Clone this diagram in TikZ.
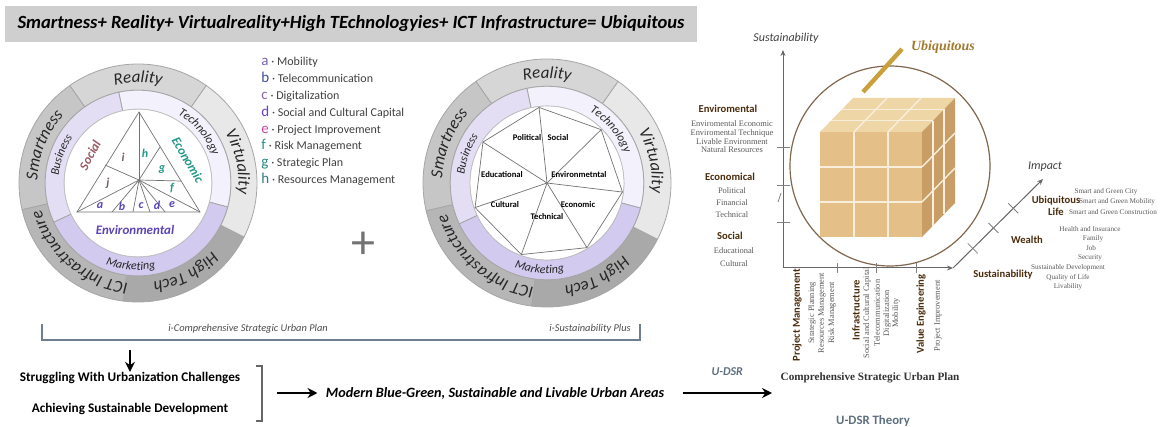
\documentclass[tikz,border=0pt]{standalone}
\usepackage{fontspec}
\setmainfont{Carlito}
\newfontfamily\timesfont{Liberation Serif}
\usetikzlibrary{positioning}
\usetikzlibrary{calc}
\usetikzlibrary{arrows.meta}
\usetikzlibrary{decorations.text}

\definecolor{titlegray}{HTML}{CFCFCF}
\definecolor{realitygray}{HTML}{D6D6D6}
\definecolor{virtualgray}{HTML}{E8E8E8}
\definecolor{hightechgray}{HTML}{A9A9A9}
\definecolor{ictgray}{HTML}{B6B6B6}
\definecolor{smartgray}{HTML}{C6C6C6}
\definecolor{techlav}{HTML}{F3F1FB}
\definecolor{businesslav}{HTML}{E3DEF4}
\definecolor{marketlav}{HTML}{D3CAF0}
\definecolor{socialred}{HTML}{9C5A66}
\definecolor{econteal}{HTML}{23998A}
\definecolor{envpurple}{HTML}{5B45B8}
\definecolor{slicegray}{HTML}{6E5E62}
\definecolor{headbrown}{HTML}{4A2C0C}
\definecolor{cubefront}{HTML}{E4C088}
\definecolor{cubetop}{HTML}{EFD6A6}
\definecolor{cubeside}{HTML}{C89E66}
\definecolor{cubeline}{HTML}{F8EEDC}
\definecolor{goldstick}{HTML}{C9A03C}
\definecolor{goldtext}{HTML}{A37A2E}
\definecolor{bracketblue}{HTML}{6F7E8E}
\definecolor{theoryblue}{HTML}{5D6F80}
\definecolor{lega}{HTML}{7A62B4}
\definecolor{legb}{HTML}{3E4DA0}
\definecolor{legc}{HTML}{8A5FB8}
\definecolor{legd}{HTML}{6A3FC2}
\definecolor{lege}{HTML}{C447A8}
\definecolor{legf}{HTML}{2B8F8A}
\definecolor{legg}{HTML}{23877F}
\definecolor{legh}{HTML}{2E7D86}

% one part of a ring: colour, from, to, outer radius, inner radius
\newcommand{\ringpart}[5]{%
  \filldraw[fill=#1, draw=black!35, line width=0.4pt] (#2:#4) arc[start angle=#2, end angle=#3, radius=#4]
    -- (#3:#5) arc[start angle=#3, end angle=#2, radius=#5] -- cycle;}
\newcommand{\ringfont}{\fontsize{8.5}{9}\selectfont\itshape}
\newcommand{\bandfont}{\fontsize{6}{7}\selectfont\itshape}

\begin{document}
\begin{tikzpicture}[x=0.5pt,y=0.5pt]
\useasboundingbox (0,0) rectangle (1162,-427);

% used styles
\tikzstyle{titletext} = [fill=titlegray, minimum width=346pt, minimum height=18pt, inner sep=0pt, font=\fontsize{9.3}{10}\selectfont\bfseries\itshape]
\tikzstyle{cornertext} = [font=\fontsize{6.5}{7}\selectfont\bfseries\itshape, inner sep=0pt]
\tikzstyle{slicetext} = [font=\fontsize{6}{7}\selectfont\bfseries\itshape, inner sep=0pt]
\tikzstyle{sectortext} = [font=\fontsize{4.3}{5}\selectfont\bfseries, inner sep=0pt]
\tikzstyle{triline} = [draw=black!55, line width=0.35pt]
\tikzstyle{legletter} = [font=\fontsize{7.5}{8}\selectfont, inner sep=0pt, anchor=base west]
\tikzstyle{legtext} = [font=\fontsize{6}{7}\selectfont, text=black!75, inner sep=0pt, anchor=base west]
\tikzstyle{smallserif} = [font=\timesfont\fontsize{4.2}{5}\selectfont, text=black!65, inner sep=0pt]
\tikzstyle{tinyserif} = [font=\timesfont\fontsize{3.6}{4}\selectfont, text=black!65, inner sep=0pt]
\tikzstyle{headword} = [font=\fontsize{5.3}{6}\selectfont\bfseries, text=headbrown, inner sep=0pt]
\tikzstyle{axistext} = [font=\fontsize{6}{7}\selectfont\itshape, text=black!75, inner sep=0pt]
\tikzstyle{axisline} = [draw=black!60, line width=0.5pt, -{Stealth[length=3pt,width=2.5pt]}]
\tikzstyle{tick} = [draw=black!50, line width=0.4pt]
\tikzstyle{cubegrid} = [draw=cubeline, line width=0.7pt]
\tikzstyle{boldarrow} = [draw=black, line width=1.1pt, -{Stealth[length=5pt,width=5pt]}]
\tikzstyle{bottomtext} = [font=\fontsize{6.6}{7}\selectfont\bfseries, inner sep=0pt]
\tikzstyle{ringword} = [decorate, decoration={text along path, text align=center, text color=black!85}]

\node[titletext] (title) at (351,-24) {Smartness+ Reality+ Virtualreality+High TEchnologyies+ ICT Infrastructure= Ubiquitous};

% the two wheels
\foreach \cx/\rr in {138/119, 547/124} {
\begin{scope}[shift={(\cx,-183)}]
\pgfmathsetmacro{\rin}{0.78*\rr}
\pgfmathsetmacro{\rdisk}{0.62*\rr}
\pgfmathsetmacro{\rlab}{0.89*\rr-5.4}
\pgfmathsetmacro{\rband}{0.7*\rr-3.8}
\pgfmathsetmacro{\rmark}{0.7*\rr+3.8}
\ringpart{realitygray}{55}{125}{\rr}{\rin}
\ringpart{smartgray}{125}{193}{\rr}{\rin}
\ringpart{ictgray}{193}{263}{\rr}{\rin}
\ringpart{hightechgray}{263}{333}{\rr}{\rin}
\ringpart{virtualgray}{333}{415}{\rr}{\rin}
\ringpart{techlav}{-15}{102}{\rin}{\rdisk}
\ringpart{businesslav}{102}{205}{\rin}{\rdisk}
\ringpart{marketlav}{205}{345}{\rin}{\rdisk}
\filldraw[fill=white, draw=black!25, line width=0.3pt] (0,0) circle (\rdisk);

\path[ringword, decoration={text={|\ringfont|Reality}}] (130:\rlab) arc[start angle=130, end angle=50, radius=\rlab];
\path[ringword, decoration={text={|\ringfont|Smartness}}] (200:\rlab) arc[start angle=200, end angle=116, radius=\rlab];
\path[ringword, decoration={text={|\ringfont|ICT Infrastructure}}] (275:\rlab) arc[start angle=275, end angle=185, radius=\rlab];
\path[ringword, decoration={text={|\ringfont|High Tech}}] (340:\rlab) arc[start angle=340, end angle=256, radius=\rlab];
\path[ringword, decoration={text={|\ringfont|Virtuality}}] (54:\rlab) arc[start angle=54, end angle=-30, radius=\rlab];
\path[ringword, decoration={text={|\bandfont|Technology}}] (85:\rband) arc[start angle=85, end angle=-5, radius=\rband];
\path[ringword, decoration={text={|\bandfont|Business}}] (205:\rband) arc[start angle=205, end angle=115, radius=\rband];
\path[ringword, decoration={text={|\bandfont|Marketing}}] (225:\rmark) arc[start angle=225, end angle=305, radius=\rmark];
\end{scope}
}

% triangle of the first wheel
\coordinate (tT) at (139,-112);
\coordinate (tL) at (77,-212);
\coordinate (tR) at (200,-212);
\coordinate (tC) at (139,-180);
\coordinate (tP1) at (105,-165);
\coordinate (tP2) at (160,-147);
\coordinate (tP3) at (181,-181);
\draw[triline] (tT) -- (tL) -- (tR) -- cycle;
\foreach \p in {tT,tL,tR,tP1,tP2,tP3} \draw[triline] (tC) -- (\p);
\foreach \x [count=\n] in {112,133,150,165} {
  \coordinate (tB\n) at (\x,-212);
  \draw[triline] (tC) -- (tB\n);
}
\foreach \l/\x/\y/\c in {a/100/206/envpurple, b/122/206/envpurple, c/141/206/envpurple, d/157/205/envpurple, e/172/205/envpurple, f/172/188/econteal, g/162/170/econteal, h/145/153/econteal, i/123/157/slicegray, j/108/183/slicegray}
  \node[slicetext, text=\c] (slice\l) at (\x,-\y) {\l};
\node[cornertext, text=socialred, rotate=62] (social) at (90,-155) {Social};
\node[cornertext, text=econteal, rotate=-60] (economic) at (188,-160) {Economic};
\node[cornertext, text=envpurple] (environmental) at (135,-230) {Environmental};

% legend
\foreach \l/\t/\c [count=\n] in {a/Mobility/lega, b/Telecommunication/legb, c/Digitalization/legc, d/Social and Cultural Capital/legd, e/Project Improvement/lege, f/Risk Management/legf, g/Strategic Plan/legg, h/Resources Management/legh}
{
  \node[legletter, text=\c] (leg\l) at (261,-66-16.8*\n+16.8) {\l};
  \node[legtext, right=1pt of leg\l.base east, anchor=base west] (legt\l) {\textperiodcentered\ \t};
}

\node[font=\fontsize{24}{24}\selectfont, text=black!55] (plus) at (363,-245) {+};

% heptagon of the second wheel
\begin{scope}[shift={(547,-183)}]
\foreach \k in {0,...,6} \coordinate (hp\k) at (96+51.43*\k:76);
\coordinate (hc) at (0,0);
\draw[triline] (hp0) -- (hp1) -- (hp2) -- (hp3) -- (hp4) -- (hp5) -- (hp6) -- cycle;
\foreach \k in {0,...,6} \draw[triline] (hc) -- (hp\k);
\end{scope}
\node[sectortext] (political) at (527,-138) {Political};
\node[sectortext] (socialsec) at (558,-138) {Social};
\node[sectortext] (educational) at (502,-175) {Educational};
\node[sectortext] (environsec) at (579,-175) {Environmetntal};
\node[sectortext] (cultural) at (505,-205) {Cultural};
\node[sectortext] (economicsec) at (578,-205) {Economic};
\node[sectortext] (technicalsec) at (547,-217) {Technical};

% bracket under the wheels
\coordinate (brL) at (42,-324);
\coordinate (brR) at (640,-324);
\draw[bracketblue, line width=1.1pt] (brL) -- ++(0,-16) -| (brR);
\node[font=\fontsize{5.2}{6}\selectfont\itshape, text=black!70] (planlabel) at (248,-329) {i-Comprehensive Strategic Urban Plan};
\node[font=\fontsize{5.2}{6}\selectfont\itshape, text=black!70] (pluslabel) at (590,-329) {i-Sustainability Plus};

% bottom line
\coordinate (downtop) at (130,-350);
\node[bottomtext] (struggle) at (130,-378) {Struggling With Urbanization Challenges};
\node[bottomtext] (achieve) at (130,-409) {Achieving Sustainable Development};
\draw[boldarrow] (downtop) -- (struggle.north);
\coordinate (brkT) at (256,-366);
\coordinate (brkB) at (256,-421);
\draw[black!60, line width=1pt] (brkT) -- ++(6,0) -- ++(0,-55) -- (brkB);
\coordinate (brkout) at (277,-393);
\node[font=\fontsize{7.1}{8}\selectfont\bfseries\itshape, inner sep=0pt] (modern) at (495,-393) {Modern Blue-Green, Sustainable and Livable Urban Areas};
\draw[boldarrow] (brkout) -- ([xshift=-4pt]modern.west);
\coordinate (udsrend) at (772,-393);
\draw[boldarrow] ([xshift=9pt]modern.east) -- (udsrend) node[midway, above=5pt, font=\fontsize{6}{7}\selectfont\bfseries\itshape, text=theoryblue] (udsr) {U-DSR};

% cube in the circle
\draw[black!50!brown!80, line width=0.6pt] (890,-166) circle (100);
\fill[cubefront] (820,-132) rectangle (922,-237);
\fill[cubetop] (820,-132) -- (853,-98) -- (955,-98) -- (922,-132) -- cycle;
\fill[cubeside] (922,-132) -- (955,-98) -- (955,-203) -- (922,-237) -- cycle;
\foreach \k in {1,2} {
  \draw[cubegrid] (820+34*\k,-132) -- (820+34*\k,-237);
  \draw[cubegrid] (820,-132-35*\k) -- (922,-132-35*\k);
  \draw[cubegrid] (820+34*\k,-132) -- (853+34*\k,-98);
  \draw[cubegrid] (820+11*\k,-132+11.33*\k) -- (922+11*\k,-132+11.33*\k);
  \draw[cubegrid] (922+11*\k,-132+11.33*\k) -- (922+11*\k,-237+11.33*\k);
  \draw[cubegrid] (922,-132-35*\k) -- (955,-98-35*\k);
}
\draw[goldstick, line width=2.2pt] (863,-92) -- (902,-49);
\node[font=\timesfont\fontsize{7}{8}\selectfont\bfseries\itshape, text=goldtext] (ubiq) at (943,-47) {Ubiquitous};

% axes
\coordinate (origin) at (783,-268);
\coordinate (sustop) at (783,-50);
\coordinate (susright) at (953,-268);
\coordinate (impactend) at (1043,-179);
\draw[axisline] (origin) -- (sustop);
\draw[axisline] (origin) -- (susright);
\draw[axisline] (susright) -- (impactend);
\foreach \y in {147,185,222} \draw[tick] (777,-\y) -- (790,-\y);
\draw[tick] (778,-202) -- (781,-193);
\foreach \x in {837,876,916} \draw[tick] (\x,-263) -- (\x,-273);
\foreach \t in {0.22,0.45,0.67} \draw[tick] ($(susright)!\t!(impactend)+(-5,5)$) -- ($(susright)!\t!(impactend)+(5,-5)$);
\node[axistext] (sustlabel) at (786,-38) {Sustainability};
\node[axistext] (impactlabel) at (1045,-167) {Impact};

% labels left of the axis
\node[headword] (envhead) at (728,-109) {Enviromental};
\foreach \t/\y [count=\n] in {Enviromental Economic/124, Enviromental Technique/133, Livable Environment/142, Natural Resources/150}
  \node[smallserif] (env\n) at (732,-\y) {\t};
\node[headword] (ecohead) at (730,-177) {Economical};
\foreach \t/\y [count=\n] in {Political/191, Financial/203, Technical/215}
  \node[smallserif] (eco\n) at (732,-\y) {\t};
\node[headword] (sochead) at (730,-236) {Social};
\foreach \t/\y [count=\n] in {Educational/251, Cultural/264}
  \node[smallserif] (soc\n) at (734,-\y) {\t};

% labels under the axis
\node[headword, rotate=90] (pmhead) at (797,-315) {Project Management};
\foreach \t/\x [count=\n] in {Strategic Planning/812, Resources Management/822, Risk Management/832}
  \node[smallserif, rotate=90] (pm\n) at (\x,-313) {\t};
\node[headword, rotate=90] (infhead) at (856,-310) {Infrastructure};
\foreach \t/\x [count=\n] in {Social and Cultural Capital/867, Telecommunication/877, Digitalization/887, Mobility/896}
  \node[smallserif, rotate=90] (inf\n) at (\x,-313) {\t};
\node[headword, rotate=90] (vehead) at (921,-314) {Value Engineering};
\node[smallserif, rotate=90] (ve1) at (938,-316) {Project Improvement};
\node[font=\timesfont\fontsize{5.6}{6}\selectfont\bfseries, text=black!80] (csup) at (870,-378) {Comprehensive Strategic Urban Plan};
\node[font=\fontsize{6.4}{7}\selectfont\bfseries, text=theoryblue] (theory) at (873,-421) {U-DSR Theory};

% labels along the impact axis
\node[headword, align=center] (ubhead) at (1056,-206) {Ubiquitous\\Life};
\node[tinyserif] (ub1) at (1106,-192) {Smart and Green City};
\node[tinyserif] (ub2) at (1117,-202) {Smart and Green Mobility};
\node[tinyserif] (ub3) at (1113,-212) {Smart and Green Construction};
\node[headword] (wealth) at (1027,-240) {Wealth};
\foreach \t/\x/\y [count=\n] in {Health and Insurance/1090/229, Family/1093/239, Job/1091/248, Security/1090/258, Sustainable Development/1068/268, Quality of Life/1068/278, Livability/1068/287}
  \node[tinyserif] (we\n) at (\x,-\y) {\t};
\node[headword] (sushead) at (1003,-275) {Sustainability};

\end{tikzpicture}
\end{document}
